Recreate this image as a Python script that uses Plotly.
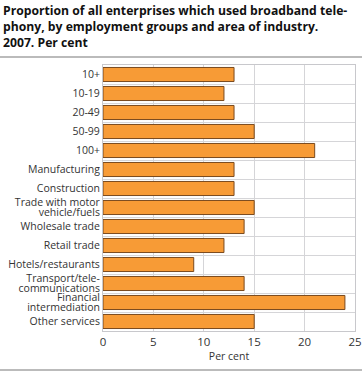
import plotly.graph_objects as go

categories = ["10+", "10-19", "20-49", "50-99", "100+", "Manufacturing", "Construction",
              "Trade with motor<br>vehicle/fuels", "Wholesale trade", "Retail trade",
              "Hotels/restaurants", "Transport/tele-<br>communications",
              "Financial<br>intermediation", "Other services"]
values = [13, 12, 13, 15, 21, 13, 13, 15, 14, 12, 9, 14, 24, 15]
x_ticks = [0, 5, 10, 15, 20, 25]

PH = 266.0  # plot height in px (for paper-coordinate separator lines)

fig = go.Figure(go.Bar(
    x=values, y=categories, orientation="h",
    marker=dict(color="#F79B36", line=dict(color="#7A4A1E", width=1)),
    hoverinfo="x+y",
))

fig.update_layout(
    width=362, height=372,
    margin=dict(l=103, r=7, t=65, b=41, autoexpand=False),
    paper_bgcolor="white", plot_bgcolor="white",
    font=dict(family="Open Sans", size=10.5, color="#333333"),
    bargap=0.26,
    showlegend=False,
    annotations=[dict(
        text="<b>Proportion of all enterprises which used broadband tele-<br>phony, by employment groups and area of industry.<br>2007. Per cent</b>",
        x=0, y=1, xref="paper", yref="paper", xanchor="left", yanchor="top",
        xshift=-102, yshift=65, align="left", showarrow=False,
        font=dict(family="Open Sans", size=12.2, color="#111111"),
    )],
    shapes=[
        dict(type="line", xref="paper", yref="paper", x0=-0.42, x1=1.03,
             y0=1 + 8 / PH, y1=1 + 8 / PH, line=dict(color="#BBBBBB", width=2)),
        dict(type="line", xref="paper", yref="paper", x0=-0.42, x1=1.03,
             y0=-39 / PH, y1=-39 / PH, line=dict(color="#BBBBBB", width=2)),
    ],
)
fig.update_xaxes(range=[0, 25], tickvals=x_ticks, showgrid=True, gridcolor="#D5D5D8",
                 gridwidth=1, zeroline=False, showline=True, linecolor="#C8C8CC",
                 ticks="", tickfont=dict(size=11.5, color="#333333"), automargin=False,
                 title=dict(text="Per cent", font=dict(size=10.5), standoff=4), mirror=True)
fig.update_yaxes(autorange="reversed", tickson="boundaries", showgrid=True,
                 gridcolor="#D5D5D8", ticks="", showline=True, linecolor="#C8C8CC",
                 automargin=False, mirror=True)

post_js = """
document.body.style.margin = '0';
var gd = document.getElementById('{plot_id}');
gd.querySelectorAll('.ytick text').forEach(function (t) {
  var ls = t.querySelectorAll('tspan.line');
  if (ls.length > 1) {
    var b0 = t.getBBox(); var c0 = b0.y + b0.height / 2;
    for (var i = 1; i < ls.length; i++) { ls[i].setAttribute('dy', '0.95em'); }
    var b1 = t.getBBox(); var c1 = b1.y + b1.height / 2;
    var tr = t.getAttribute('transform') || '';
    t.setAttribute('transform', tr + ' translate(0,' + (c0 - c1) + ')');
  }
});
"""

fig.write_html("out.html", post_script=post_js, config={"displayModeBar": False})
